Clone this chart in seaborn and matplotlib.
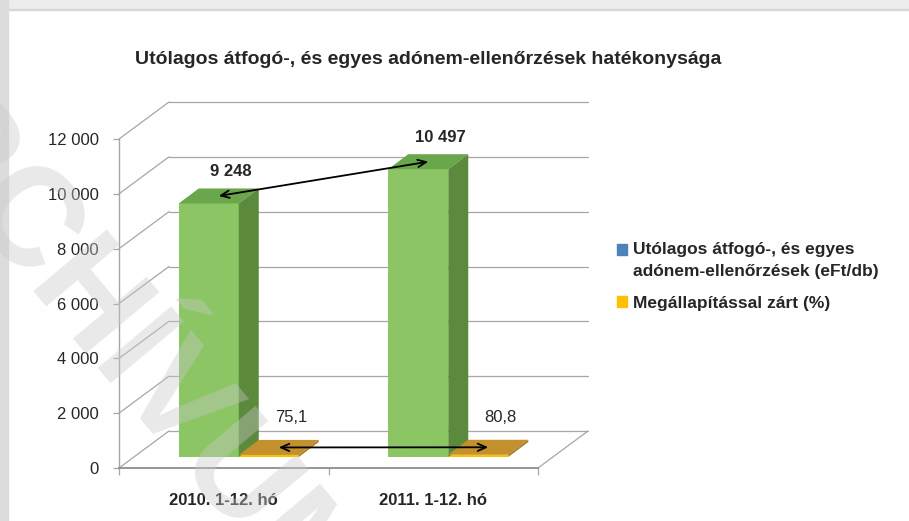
import matplotlib
matplotlib.use("Agg")
import matplotlib.pyplot as plt
import matplotlib.patches as mpatches
from matplotlib.patches import Polygon, Rectangle
from matplotlib.legend_handler import HandlerPatch
import seaborn as sns
import pandas as pd

# --- data --------------------------------------------------------------------
periods = ["2010. 1-12. hó", "2011. 1-12. hó"]
series_names = ["Utólagos átfogó-, és egyes\nadónem-ellenőrzések (eFt/db)",
                "Megállapítással zárt (%)"]
audit_values = [9248, 10497]        # eFt/db
closed_pct = [75.1, 80.8]           # %
audit_labels = ["9 248", "10 497"]
closed_labels = ["75,1", "80,8"]
y_ticks = [0, 2000, 4000, 6000, 8000, 10000, 12000]
y_tick_labels = ["0", "2 000", "4 000", "6 000", "8 000", "10 000", "12 000"]

TITLE = "Utólagos átfogó-, és egyes adónem-ellenőrzések hatékonysága"

# colours
GREEN_FRONT = "#8CC664"
GREEN_TOP = "#6AA64C"
GREEN_SIDE = "#5B8A3C"
ORANGE_FRONT = "#FFC000"
ORANGE_TOP = "#C2902C"
ORANGE_SIDE = "#A87A20"
LEGEND_COLORS = ["#4F81BD", "#FFC000"]
GRID = "#A6A6A6"
TEXT = "#262626"

# --- geometry (pixels of the 909x521 picture) --------------------------------
W, H = 909, 521
AX_L, AX_R = 119, 538          # front plane, x
AX_TOP, AX_BOT = 139, 468      # front plane, y (12 000 / 0)
PXX = 2.0 / (AX_R - AX_L)      # data units per pixel
PXY = 12000 / (AX_BOT - AX_TOP)
PLANE = (15 * PXX, 11 * PXY)   # bars sit a bit behind the front plane
DEPTH = (20 * PXX, 15 * PXY)   # bar depth
WALL = (50 * PXX, 37 * PXY)    # back wall offset

sns.set_theme(style="white")
plt.rcParams["font.family"] = ["Liberation Sans", "DejaVu Sans"]

fig = plt.figure(figsize=(W / 100, H / 100), dpi=100)
fig.patch.set_facecolor("white")

# page frame of the scanned document
fig.add_artist(Rectangle((0, 1 - 9 / H), 1, 9 / H, transform=fig.transFigure,
                         color="#EDEDED", zorder=0))
fig.add_artist(Rectangle((0, 1 - 10 / H), 1, 1.5 / H, transform=fig.transFigure,
                         color="#D6D6D6", zorder=0))
fig.add_artist(Rectangle((0, 0), 8 / W, 1, transform=fig.transFigure,
                         color="#DCDCDC", zorder=0))

ax = fig.add_axes([AX_L / W, (H - AX_BOT) / H, (AX_R - AX_L) / W,
                   (AX_BOT - AX_TOP) / H])
ax.set_facecolor("none")

df = pd.DataFrame({
    "period": periods * 2,
    "series": [series_names[0]] * 2 + [series_names[1]] * 2,
    "value": audit_values + closed_pct,
})
sns.barplot(data=df, x="period", y="value", hue="series",
            palette=[GREEN_FRONT, ORANGE_FRONT], width=0.573, saturation=1,
            errorbar=None, legend=False, ax=ax)
ax.set_xlim(-0.5, 1.5)
ax.set_ylim(0, 12000)

# back wall, side wall and floor
for t in y_ticks:
    ax.plot([-0.5, -0.5 + WALL[0]], [t, t + WALL[1]], color=GRID, lw=0.9,
            clip_on=False, zorder=1)
    ax.plot([-0.5 + WALL[0], 1.5 + WALL[0]], [t + WALL[1]] * 2, color=GRID,
            lw=0.9, clip_on=False, zorder=1)
ax.plot([1.5, 1.5 + WALL[0]], [0, WALL[1]], color=GRID, lw=0.9,
        clip_on=False, zorder=1)

# turn the flat seaborn bars into boxes
faces = [(GREEN_TOP, GREEN_SIDE), (ORANGE_TOP, ORANGE_SIDE)]
tops = []
for cont, (c_top, c_side) in zip(ax.containers, faces):
    centers = []
    for bar in cont:
        x0 = bar.get_x() + PLANE[0]
        w = bar.get_width()
        h = bar.get_height()
        bar.set_x(x0)
        bar.set_y(PLANE[1])
        bar.set_linewidth(0)
        bar.set_zorder(3)
        x1 = x0 + w
        y0, y1 = PLANE[1], PLANE[1] + h
        ax.add_patch(Polygon([(x0, y1), (x1, y1), (x1 + DEPTH[0], y1 + DEPTH[1]),
                              (x0 + DEPTH[0], y1 + DEPTH[1])],
                             closed=True, color=c_top, lw=0, zorder=3))
        ax.add_patch(Polygon([(x1, y0), (x1, y1), (x1 + DEPTH[0], y1 + DEPTH[1]),
                              (x1 + DEPTH[0], y0 + DEPTH[1])],
                             closed=True, color=c_side, lw=0, zorder=3))
        centers.append((x0 + w / 2, y1))
    tops.append(centers)

# value labels
for (cx, cy), lab in zip(tops[0], audit_labels):
    ax.text(cx + 22 * PXX, cy + 32 * PXY, lab, ha="center", va="center",
            fontsize=12, fontweight="bold", color=TEXT, zorder=6)
for (cx, cy), lab in zip(tops[1], closed_labels):
    ax.text(cx + 22 * PXX, cy + 37 * PXY, lab, ha="center", va="center",
            fontsize=12, color=TEXT, zorder=6)

# arrows linking the top faces
for centers in tops:
    (ax0, ay0), (ax1, ay1) = centers
    ax.annotate("", xy=(ax1 + DEPTH[0] / 2, ay1 + DEPTH[1] / 2),
                xytext=(ax0 + DEPTH[0] / 2, ay0 + DEPTH[1] / 2),
                arrowprops=dict(arrowstyle="<->,head_length=0.5,head_width=0.22",
                                color="black", lw=1.3, shrinkA=0, shrinkB=0),
                zorder=7)

# axes
for s in ["top", "right"]:
    ax.spines[s].set_visible(False)
ax.spines["left"].set_color(GRID)
ax.spines["left"].set_linewidth(1.0)
ax.spines["bottom"].set_color("#8C8C8C")
ax.spines["bottom"].set_linewidth(1.3)

ax.set_yticks(y_ticks)
ax.set_yticklabels(y_tick_labels)
ax.tick_params(axis="y", left=True, length=4.5, width=0.9, color=GRID,
               pad=10, labelsize=12, labelcolor=TEXT)
ax.set_xticks([0, 1])
ax.set_xticklabels(periods, fontweight="bold")
ax.set_xticks([-0.5, 0.5, 1.5], minor=True)
ax.tick_params(axis="x", which="major", bottom=False, length=0, pad=18,
               labelsize=12, labelcolor=TEXT)
ax.tick_params(axis="x", which="minor", bottom=True, length=5, width=0.9,
               color=GRID)
ax.set_xlabel("")
ax.set_ylabel("")
ax.grid(False)

fig.text(428 / W, 1 - 60 / H, TITLE, ha="center", va="center", fontsize=14,
         fontweight="bold", color=TEXT)


def first_line_patch(legend, orig_handle, xdescent, ydescent, width, height, fontsize):
    # square next to the first line of a two-line label
    return mpatches.Rectangle((-xdescent, -ydescent + 8), width, height)


handles = [mpatches.Patch(color=c, label=l) for c, l in zip(LEGEND_COLORS, series_names)]
leg = fig.legend(handles=handles, loc="upper left",
                 bbox_to_anchor=(617 / W, 1 - 242 / H), frameon=False,
                 prop={"weight": "bold", "size": 12.5},
                 handlelength=0.6, handleheight=0.6, handletextpad=0.35,
                 labelspacing=1.0, borderpad=0, borderaxespad=0,
                 labelcolor=TEXT,
                 handler_map={handles[0]: HandlerPatch(patch_func=first_line_patch)})
for t in leg.get_texts():
    t.set_linespacing(1.55)

# archive watermark over the page
fig.text(100 / W, 1 - 320 / H, "ARCHÍVUM", rotation=-50, rotation_mode="anchor",
         ha="center", va="center", fontsize=100, fontweight="bold",
         color="#C8C8C8", alpha=0.4, zorder=20)

fig.savefig("out.png", dpi=100)
